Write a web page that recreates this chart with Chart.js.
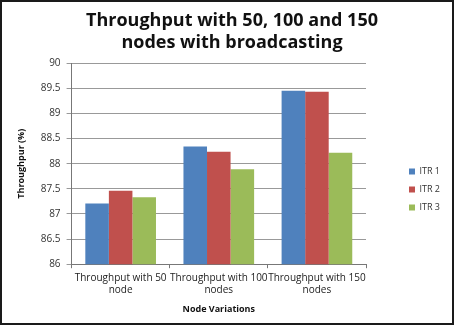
<!DOCTYPE html>
<html>
<head>
<meta charset="utf-8">
<script src="https://cdn.jsdelivr.net/npm/chart.js@4"></script>
<style>
  html, body { margin: 0; padding: 0; background: #fff; }
  #wrap { width: 454px; height: 325px; box-sizing: border-box; border: 2px solid #1a1a1a; }
</style>
</head>
<body>
<div id="wrap"><canvas id="tpChart" width="450" height="321"></canvas></div>
<script>
const categories = [
  ["Throughput with 50", "node"],
  ["Throughput with 100", "nodes"],
  ["Throughput with 150", "nodes"]
];
const itr1 = [87.21, 88.34, 89.45];
const itr2 = [87.46, 88.24, 89.43];
const itr3 = [87.33, 87.89, 88.22];
const yTicks = [86, 86.5, 87, 87.5, 88, 88.5, 89, 89.5, 90];

// make the legend column wider and push its items right/down, like the Excel layout
const legendSpot = {
  id: "legendSpot",
  beforeInit(chart) {
    const lg = chart.legend;
    const fit = lg.fit;
    lg.fit = function () {
      fit.call(this);
      if (!this.isHorizontal()) this.width = 86;
    };
  },
  afterLayout(chart) {
    const lg = chart.legend;
    lg.left += 34;
    lg.top += 29;
    lg.bottom += 29;
  }
};

const ctx = document.getElementById("tpChart").getContext("2d");
new Chart(ctx, {
  type: "bar",
  data: {
    labels: categories,
    datasets: [
      { label: "ITR 1", data: itr1, backgroundColor: "#4F81BD" },
      { label: "ITR 2", data: itr2, backgroundColor: "#C0504D" },
      { label: "ITR 3", data: itr3, backgroundColor: "#9BBB59" }
    ]
  },
  plugins: [legendSpot],
  options: {
    responsive: false,
    animation: false,
    layout: { padding: { top: 4, right: 0, left: 10, bottom: 8 } },
    datasets: { bar: { categoryPercentage: 0.72, barPercentage: 1.0 } },
    plugins: {
      title: {
        display: true,
        text: ["Throughput with 50, 100 and 150", "nodes with broadcasting"],
        color: "#111",
        font: { family: "Open Sans", size: 18, weight: "bold" },
        padding: { top: 4, bottom: 10 },
        lineHeight: 1.25
      },
      legend: {
        position: "right",
        labels: {
          boxWidth: 6,
          boxHeight: 6,
          padding: 9,
          color: "#333",
          font: { family: "Open Sans", size: 9 }
        }
      },
      tooltip: { enabled: false }
    },
    scales: {
      y: {
        min: 86,
        max: 90,
        afterBuildTicks: axis => { axis.ticks = yTicks.map(v => ({ value: v })); },
        ticks: {
          color: "#333",
          font: { family: "Open Sans", size: 10 },
          padding: 6,
          callback: v => String(v)
        },
        grid: { color: "#999", tickLength: 5 },
        border: { color: "#777" },
        title: {
          display: true,
          text: "Throughpur (%)",
          color: "#111",
          font: { family: "Open Sans", size: 9, weight: "bold" },
          padding: { bottom: 8 }
        }
      },
      x: {
        ticks: {
          color: "#222",
          font: { family: "Open Sans", size: 10 },
          maxRotation: 0,
          autoSkip: false,
          padding: 4
        },
        grid: { drawOnChartArea: false, offset: true, tickLength: 4, color: "#777" },
        border: { color: "#777" },
        title: {
          display: true,
          text: "Node Variations",
          color: "#111",
          font: { family: "Open Sans", size: 9, weight: "bold" },
          padding: { top: 4, bottom: 0 }
        }
      }
    }
  }
});
</script>
</body>
</html>
